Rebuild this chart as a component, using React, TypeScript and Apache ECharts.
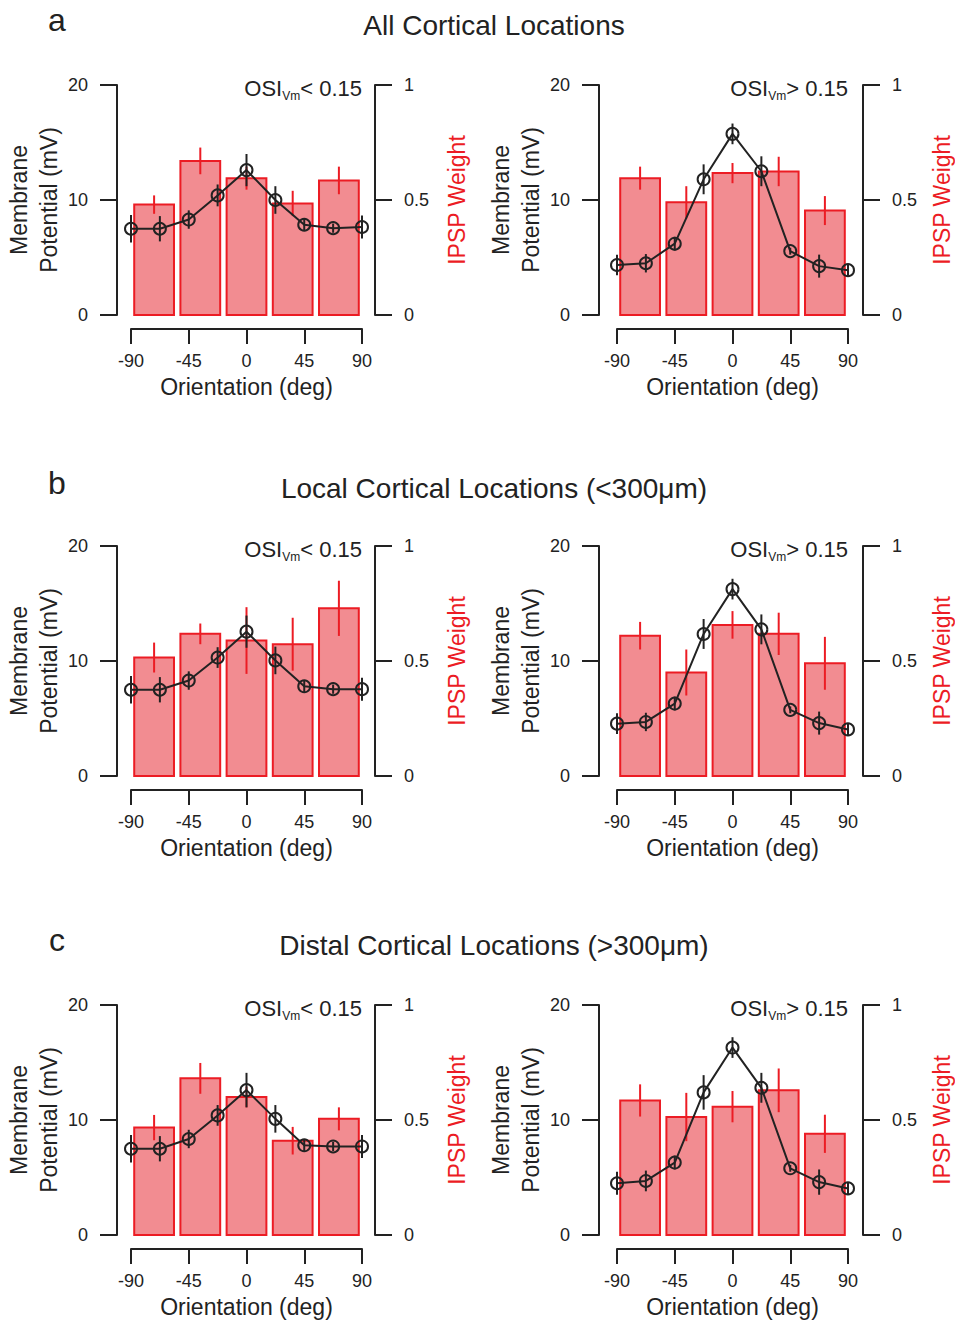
import React, { useEffect, useRef } from "react";
import * as echarts from "echarts";

const FONT = '"Liberation Sans", Arial, Helvetica, sans-serif';
const INK = "#222222";
const RED = "#ec1c24";
const PINK = "#f28c91";

// Orientations (deg)
const barAngles = [-72, -36, 0, 36, 72];
const vmAngles = [-90, -67.5, -45, -22.5, 0, 22.5, 45, 67.5, 90];

const rowLetters = ["a", "b", "c"];
const rowTitles = [
  "All Cortical Locations",
  "Local Cortical Locations (<300μm)",
  "Distal Cortical Locations (>300μm)",
];
const osiLow = "< 0.15";
const osiHigh = "> 0.15";

// Row a, OSI < 0.15
const aLowIpsp = [0.48, 0.67, 0.595, 0.485, 0.585];
const aLowIpspErr = [0.04, 0.058, 0.05, 0.055, 0.06];
const aLowVm = [7.5, 7.5, 8.3, 10.4, 12.6, 10.0, 7.85, 7.55, 7.65];
const aLowVmErr = [1.2, 1.1, 0.8, 0.95, 1.4, 1.2, 0.5, 0.4, 1.0];
// Row a, OSI > 0.15
const aHighIpsp = [0.595, 0.49, 0.617, 0.624, 0.454];
const aHighIpspErr = [0.05, 0.07, 0.044, 0.064, 0.063];
const aHighVm = [4.35, 4.5, 6.2, 11.8, 15.75, 12.5, 5.55, 4.25, 3.9];
const aHighVmErr = [0.9, 0.8, 0.6, 1.3, 0.9, 1.3, 0.3, 1.0, 0.5];
// Row b, OSI < 0.15
const bLowIpsp = [0.515, 0.618, 0.589, 0.573, 0.729];
const bLowIpspErr = [0.065, 0.045, 0.145, 0.115, 0.12];
const bLowVm = [7.5, 7.5, 8.3, 10.3, 12.55, 10.05, 7.8, 7.55, 7.55];
const bLowVmErr = [1.2, 1.1, 0.8, 0.9, 1.4, 1.2, 0.5, 0.4, 1.0];
// Row b, OSI > 0.15
const bHighIpsp = [0.61, 0.45, 0.657, 0.618, 0.49];
const bHighIpspErr = [0.06, 0.1, 0.06, 0.092, 0.115];
const bHighVm = [4.55, 4.7, 6.3, 12.35, 16.25, 12.75, 5.75, 4.6, 4.05];
const bHighVmErr = [0.9, 0.8, 0.6, 1.3, 0.9, 1.3, 0.3, 1.0, 0.5];
// Row c, OSI < 0.15
const cLowIpsp = [0.467, 0.681, 0.6, 0.41, 0.505];
const cLowIpspErr = [0.055, 0.067, 0.045, 0.06, 0.05];
const cLowVm = [7.5, 7.5, 8.35, 10.4, 12.6, 10.1, 7.8, 7.7, 7.7];
const cLowVmErr = [1.2, 1.1, 0.8, 0.9, 1.5, 1.2, 0.5, 0.4, 1.0];
// Row c, OSI > 0.15
const cHighIpsp = [0.585, 0.513, 0.558, 0.629, 0.44];
const cHighIpspErr = [0.07, 0.105, 0.068, 0.095, 0.083];
const cHighVm = [4.5, 4.7, 6.3, 12.4, 16.3, 12.8, 5.8, 4.6, 4.05];
const cHighVmErr = [1.0, 0.9, 0.6, 1.5, 0.9, 1.3, 0.3, 1.1, 0.5];

const panels = [
  { row: 0, col: 0, osi: osiLow, ipsp: aLowIpsp, ipspErr: aLowIpspErr, vm: aLowVm, vmErr: aLowVmErr },
  { row: 0, col: 1, osi: osiHigh, ipsp: aHighIpsp, ipspErr: aHighIpspErr, vm: aHighVm, vmErr: aHighVmErr },
  { row: 1, col: 0, osi: osiLow, ipsp: bLowIpsp, ipspErr: bLowIpspErr, vm: bLowVm, vmErr: bLowVmErr },
  { row: 1, col: 1, osi: osiHigh, ipsp: bHighIpsp, ipspErr: bHighIpspErr, vm: bHighVm, vmErr: bHighVmErr },
  { row: 2, col: 0, osi: osiLow, ipsp: cLowIpsp, ipspErr: cLowIpspErr, vm: cLowVm, vmErr: cLowVmErr },
  { row: 2, col: 1, osi: osiHigh, ipsp: cHighIpsp, ipspErr: cHighIpspErr, vm: cHighVm, vmErr: cHighVmErr },
];

// Layout (pixels)
const GRID_TOPS = [85, 546, 1005];
const GRID_LEFTS = [131, 617];
const GRID_W = 231;
const GRID_H = 230;
const LETTER_Y = [20, 483, 940];
const TITLE_Y = [25, 488, 945];
const BAR_HALF = 15.5; // half bar width in degrees

function buildOption() {
  const grid: any[] = [];
  const xAxis: any[] = [];
  const yAxis: any[] = [];
  const series: any[] = [];
  const graphic: any[] = [];

  const axisLine = { show: true, onZero: false, lineStyle: { color: INK, width: 2 } };
  const axisTickStyle = { color: INK, width: 2 };
  const labelStyle = { fontSize: 18, color: INK, fontFamily: FONT };

  panels.forEach((p, i) => {
    const top = GRID_TOPS[p.row];
    const left = GRID_LEFTS[p.col];
    grid.push({ left, top, width: GRID_W, height: GRID_H, containLabel: false });

    xAxis.push({
      gridIndex: i,
      type: "value",
      position: "bottom",
      min: -90,
      max: 90,
      interval: 45,
      offset: 14,
      axisLine,
      axisTick: { show: true, inside: false, length: 15, lineStyle: axisTickStyle },
      axisLabel: { ...labelStyle, margin: 23 },
      splitLine: { show: false },
      name: "Orientation (deg)",
      nameLocation: "middle",
      nameGap: 46,
      nameTextStyle: { fontSize: 23, color: INK, fontFamily: FONT },
    });

    yAxis.push({
      gridIndex: i,
      type: "value",
      position: "left",
      min: 0,
      max: 20,
      interval: 10,
      offset: p.col === 0 ? 14 : 18,
      axisLine,
      axisTick: { show: true, inside: false, length: 17, lineStyle: axisTickStyle },
      axisLabel: { ...labelStyle, margin: 29 },
      splitLine: { show: false },
      name: "Membrane\nPotential (mV)",
      nameLocation: "middle",
      nameRotate: 90,
      nameGap: p.col === 0 ? 50 : 46,
      nameTextStyle: { fontSize: 23, lineHeight: 30, color: INK, fontFamily: FONT },
    });

    yAxis.push({
      gridIndex: i,
      type: "value",
      position: "right",
      min: 0,
      max: 1,
      interval: 0.5,
      offset: p.col === 0 ? 13 : 15,
      axisLine,
      axisTick: { show: true, inside: false, length: 17, lineStyle: axisTickStyle },
      axisLabel: { ...labelStyle, margin: 29 },
      splitLine: { show: false },
      name: "IPSP Weight",
      nameLocation: "middle",
      nameRotate: 90,
      nameGap: p.col === 0 ? 70 : 67,
      nameTextStyle: { fontSize: 23, lineHeight: 24, color: RED, fontFamily: FONT },
    });

    // IPSP weight bars with error bars
    series.push({
      type: "custom",
      xAxisIndex: i,
      yAxisIndex: 2 * i + 1,
      data: barAngles.map((a, k) => [a, p.ipsp[k], p.ipspErr[k]]),
      encode: { x: 0, y: 1 },
      z: 2,
      silent: true,
      renderItem: (_params: any, api: any) => {
        const x = api.value(0);
        const w = api.value(1);
        const e = api.value(2);
        const tl = api.coord([x - BAR_HALF, w]);
        const br = api.coord([x + BAR_HALF, 0]);
        const et = api.coord([x, w + e]);
        const eb = api.coord([x, w - e]);
        return {
          type: "group",
          children: [
            {
              type: "rect",
              shape: { x: tl[0], y: tl[1], width: br[0] - tl[0], height: br[1] - tl[1] },
              style: { fill: PINK, stroke: RED, lineWidth: 2 },
            },
            {
              type: "line",
              shape: { x1: et[0], y1: et[1], x2: eb[0], y2: eb[1] },
              style: { stroke: RED, lineWidth: 2 },
            },
          ],
        };
      },
    });

    // Vm error bars
    series.push({
      type: "custom",
      xAxisIndex: i,
      yAxisIndex: 2 * i,
      data: vmAngles.map((a, k) => [a, p.vm[k], p.vmErr[k]]),
      encode: { x: 0, y: 1 },
      z: 3,
      silent: true,
      renderItem: (_params: any, api: any) => {
        const x = api.value(0);
        const v = api.value(1);
        const e = api.value(2);
        const a = api.coord([x, v + e]);
        const b = api.coord([x, v - e]);
        return {
          type: "line",
          shape: { x1: a[0], y1: a[1], x2: b[0], y2: b[1] },
          style: { stroke: INK, lineWidth: 2 },
        };
      },
    });

    // Vm tuning line
    series.push({
      type: "line",
      xAxisIndex: i,
      yAxisIndex: 2 * i,
      data: vmAngles.map((a, k) => [a, p.vm[k]]),
      symbol: "circle",
      symbolSize: 12,
      showSymbol: true,
      z: 4,
      silent: true,
      lineStyle: { color: INK, width: 2 },
      itemStyle: { color: "rgba(0,0,0,0)", borderColor: INK, borderWidth: 2 },
      emphasis: { disabled: true },
    });

    // OSI label
    graphic.push({
      type: "text",
      x: left + GRID_W,
      y: top + 3,
      silent: true,
      style: {
        text: "{m|OSI}{s|Vm}{m|" + p.osi + "}",
        align: "right",
        verticalAlign: "middle",
        rich: {
          m: { fontSize: 22, fontFamily: FONT, fill: INK, lineHeight: 28, verticalAlign: "middle" },
          s: { fontSize: 12, fontFamily: FONT, fill: INK, lineHeight: 12, verticalAlign: "bottom" },
        },
      },
    });
  });

  rowLetters.forEach((letter, r) => {
    graphic.push({
      type: "text",
      x: 57,
      y: LETTER_Y[r],
      silent: true,
      style: { text: letter, fontSize: 32, fontFamily: FONT, fill: INK, align: "center", verticalAlign: "middle" },
    });
    graphic.push({
      type: "text",
      x: 494,
      y: TITLE_Y[r],
      silent: true,
      style: { text: rowTitles[r], fontSize: 28, fontFamily: FONT, fill: INK, align: "center", verticalAlign: "middle" },
    });
  });

  return {
    animation: false,
    backgroundColor: "#ffffff",
    textStyle: { fontFamily: FONT },
    grid,
    xAxis,
    yAxis,
    series,
    graphic,
  };
}

export default function App() {
  const ref = useRef<HTMLDivElement>(null);
  useEffect(() => {
    if (!ref.current) return;
    const chart = echarts.init(ref.current, null, { renderer: "svg" });
    chart.setOption(buildOption() as any);
    return () => chart.dispose();
  }, []);
  return (
    <div
      ref={ref}
      style={{ position: "absolute", left: 0, top: 0, width: 955, height: 1325, background: "#fff" }}
    />
  );
}
